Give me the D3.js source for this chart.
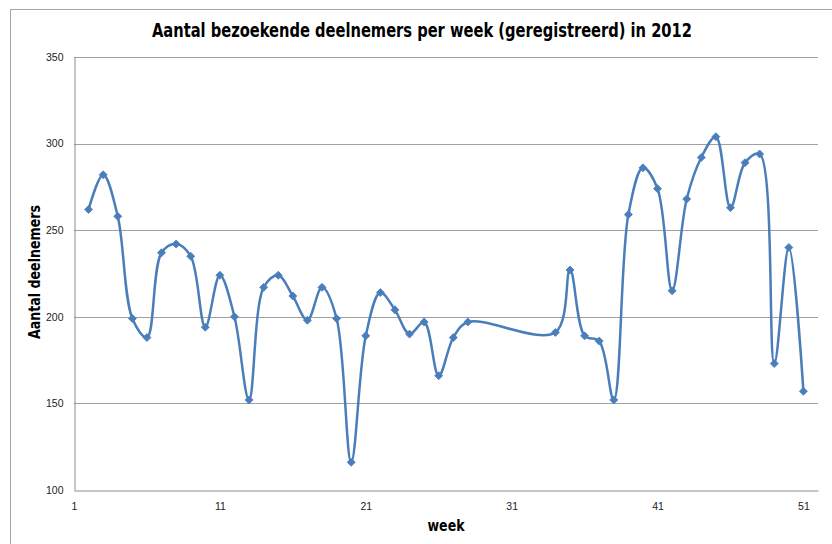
<!DOCTYPE html>
<html>
<head>
<meta charset="utf-8">
<script src="https://cdn.jsdelivr.net/npm/d3@7"></script>
<style>
  body { margin: 0; background: #fff; }
  svg { display: block; font-family: "Liberation Sans Narrow", "DejaVu Sans Condensed", sans-serif; }
</style>
</head>
<body>
<div id="content"></div>
<script>
let width = 832;
let height = 544;
let margin = ({top: 57, right: 14, bottom: 54, left: 74});

// weeks with a registered count, and the counts
let weeks = [2, 3, 4, 5, 6, 7, 8, 9, 10, 11, 12, 13, 14, 15, 16, 17, 18, 19, 20,
    21, 22, 23, 24, 25, 26, 27, 28, 34, 35, 36, 37, 38, 39, 40, 41, 42, 43, 44,
    45, 46, 47, 48, 49, 50, 51];
let visitors = [262, 282, 258, 199, 188, 237, 242, 235, 194, 224, 200, 152, 217,
    224, 212, 198, 217, 199, 116, 189, 214, 204, 190, 197, 166, 188, 197, 191,
    227, 189, 186, 152, 259, 286, 274, 215, 268, 292, 304, 263, 289, 294, 173,
    240, 157];
let xTicks = [1, 11, 21, 31, 41, 51];
let yTicks = [100, 150, 200, 250, 300, 350];

let data = weeks.map((w, i) => ({week: w, value: visitors[i]}));

let svg = d3.select("#content")
    .append("svg")
    .attr("width", width)
    .attr("height", height);

// chart border (only left and top visible in the picture)
svg.append("rect")
    .attr("x", 10.5)
    .attr("y", 9.5)
    .attr("width", width + 10)
    .attr("height", height + 10)
    .attr("fill", "none")
    .attr("stroke", "#a6a6a6");

let xScale = d3.scaleLinear()
    .domain([1, 52])
    .range([margin.left, width - margin.right]);

let yScale = d3.scaleLinear()
    .domain([100, 350])
    .range([height - margin.bottom, margin.top]);

// horizontal gridlines
svg.append("g")
    .selectAll("line")
    .data(yTicks.slice(1))
    .join("line")
    .attr("x1", margin.left)
    .attr("x2", width - margin.right)
    .attr("y1", d => Math.round(yScale(d)) + 0.5)
    .attr("y2", d => Math.round(yScale(d)) + 0.5)
    .attr("stroke", "#a0a0a0")
    .attr("stroke-width", 1.2);

let yAxis = d3.axisLeft(yScale).tickValues(yTicks).tickSize(0).tickPadding(11);
svg.append("g")
    .attr("transform", "translate(" + (margin.left + 0.5) + ",0)")
    .call(yAxis)
    .call(g => g.select(".domain").attr("stroke", "#8c8c8c"))
    .call(g => g.selectAll("text").attr("font-size", 10.5).attr("fill", "#222"));

let xAxis = d3.axisBottom(xScale).tickValues(xTicks).tickSize(0).tickPadding(12);
svg.append("g")
    .attr("transform", "translate(0," + (height - margin.bottom + 0.5) + ")")
    .call(xAxis)
    .call(g => g.select(".domain").attr("stroke", "#8c8c8c"))
    .call(g => g.selectAll("text").attr("font-size", 10.5).attr("fill", "#222"));

// Excel-like smoothing, centripetal keeps the overshoot small
let line = d3.line()
    .x(d => xScale(d.week))
    .y(d => yScale(d.value))
    .curve(d3.curveCatmullRom.alpha(0.5));

svg.append("path")
    .datum(data)
    .attr("fill", "none")
    .attr("stroke", "#4a7ebb")
    .attr("stroke-width", 2.5)
    .attr("d", line);

// diamond markers
svg.append("g")
    .selectAll("path")
    .data(data)
    .join("path")
    .attr("transform", d => "translate(" + xScale(d.week) + "," + yScale(d.value) + ")")
    .attr("d", "M0,-4L4,0L0,4L-4,0Z")
    .attr("fill", "#4a7ebb")
    .attr("stroke", "#4a7ebb")
    .attr("stroke-width", 0.8);

svg.append("text")
    .attr("x", 422)
    .attr("y", 37)
    .attr("text-anchor", "middle")
    .attr("font-size", 19)
    .attr("font-weight", "bold")
    .attr("textLength", 540)
    .attr("lengthAdjust", "spacingAndGlyphs")
    .text("Aantal bezoekende deelnemers per week (geregistreerd) in 2012");

svg.append("text")
    .attr("x", 446)
    .attr("y", 531)
    .attr("text-anchor", "middle")
    .attr("font-size", 15)
    .attr("font-weight", "bold")
    .attr("textLength", 37)
    .attr("lengthAdjust", "spacingAndGlyphs")
    .text("week");

svg.append("text")
    .attr("transform", "translate(40,272) rotate(-90)")
    .attr("text-anchor", "middle")
    .attr("font-size", 15)
    .attr("font-weight", "bold")
    .attr("textLength", 134)
    .attr("lengthAdjust", "spacingAndGlyphs")
    .text("Aantal deelnemers");
</script>
</body>
</html>
